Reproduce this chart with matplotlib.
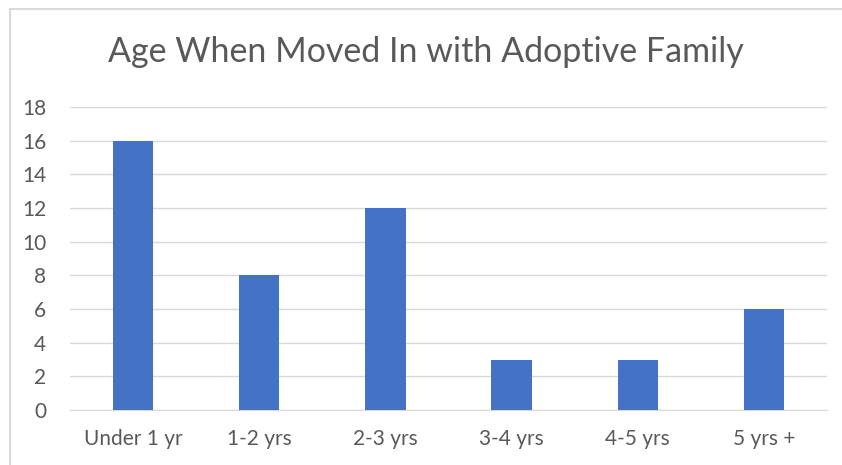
import numpy as np
import matplotlib.pyplot as plt
from matplotlib.lines import Line2D

categories = ['Under 1 yr', '1-2 yrs', '2-3 yrs', '3-4 yrs', '4-5 yrs', '5 yrs +']
counts = [16, 8, 12, 3, 3, 6]

plt.rcParams['font.family'] = ['Lato', 'DejaVu Sans']

fig = plt.figure(figsize=(8.42, 4.65), dpi=100)
# chart area border (only left + top show in the crop)
bx, by = 10 / 842, 1 - 9 / 465
fig.add_artist(Line2D([bx, bx], [0, by], transform=fig.transFigure, color='#d9d9d9', linewidth=1.5))
fig.add_artist(Line2D([bx, 1], [by, by], transform=fig.transFigure, color='#d9d9d9', linewidth=1.5))

ax = fig.add_axes([70 / 842, 1 - 410 / 465, 757 / 842, 303 / 465])
x = np.arange(len(categories))
ax.bar(x, counts, width=0.32, color='#4472c4', zorder=3)

ax.set_xlim(-0.5, len(categories) - 0.5)
ax.set_ylim(0, 18)
ax.set_yticks(np.arange(0, 19, 2))
ax.set_xticks(x)
ax.set_xticklabels(categories)
ax.grid(axis='y', color='#d9d9d9', linewidth=1, zorder=0)
for s in ['top', 'right', 'left']:
    ax.spines[s].set_visible(False)
ax.spines['bottom'].set_color('#d9d9d9')
ax.tick_params(axis='both', length=0, labelsize=15, labelcolor='#595959')
ax.tick_params(axis='x', pad=14)
ax.tick_params(axis='y', pad=17)

fig.text(426 / 842, 1 - 52 / 465, 'Age When Moved In with Adoptive Family', ha='center', va='center',
         fontsize=24.5, color='#595959')

fig.savefig('out.png', dpi=100)
